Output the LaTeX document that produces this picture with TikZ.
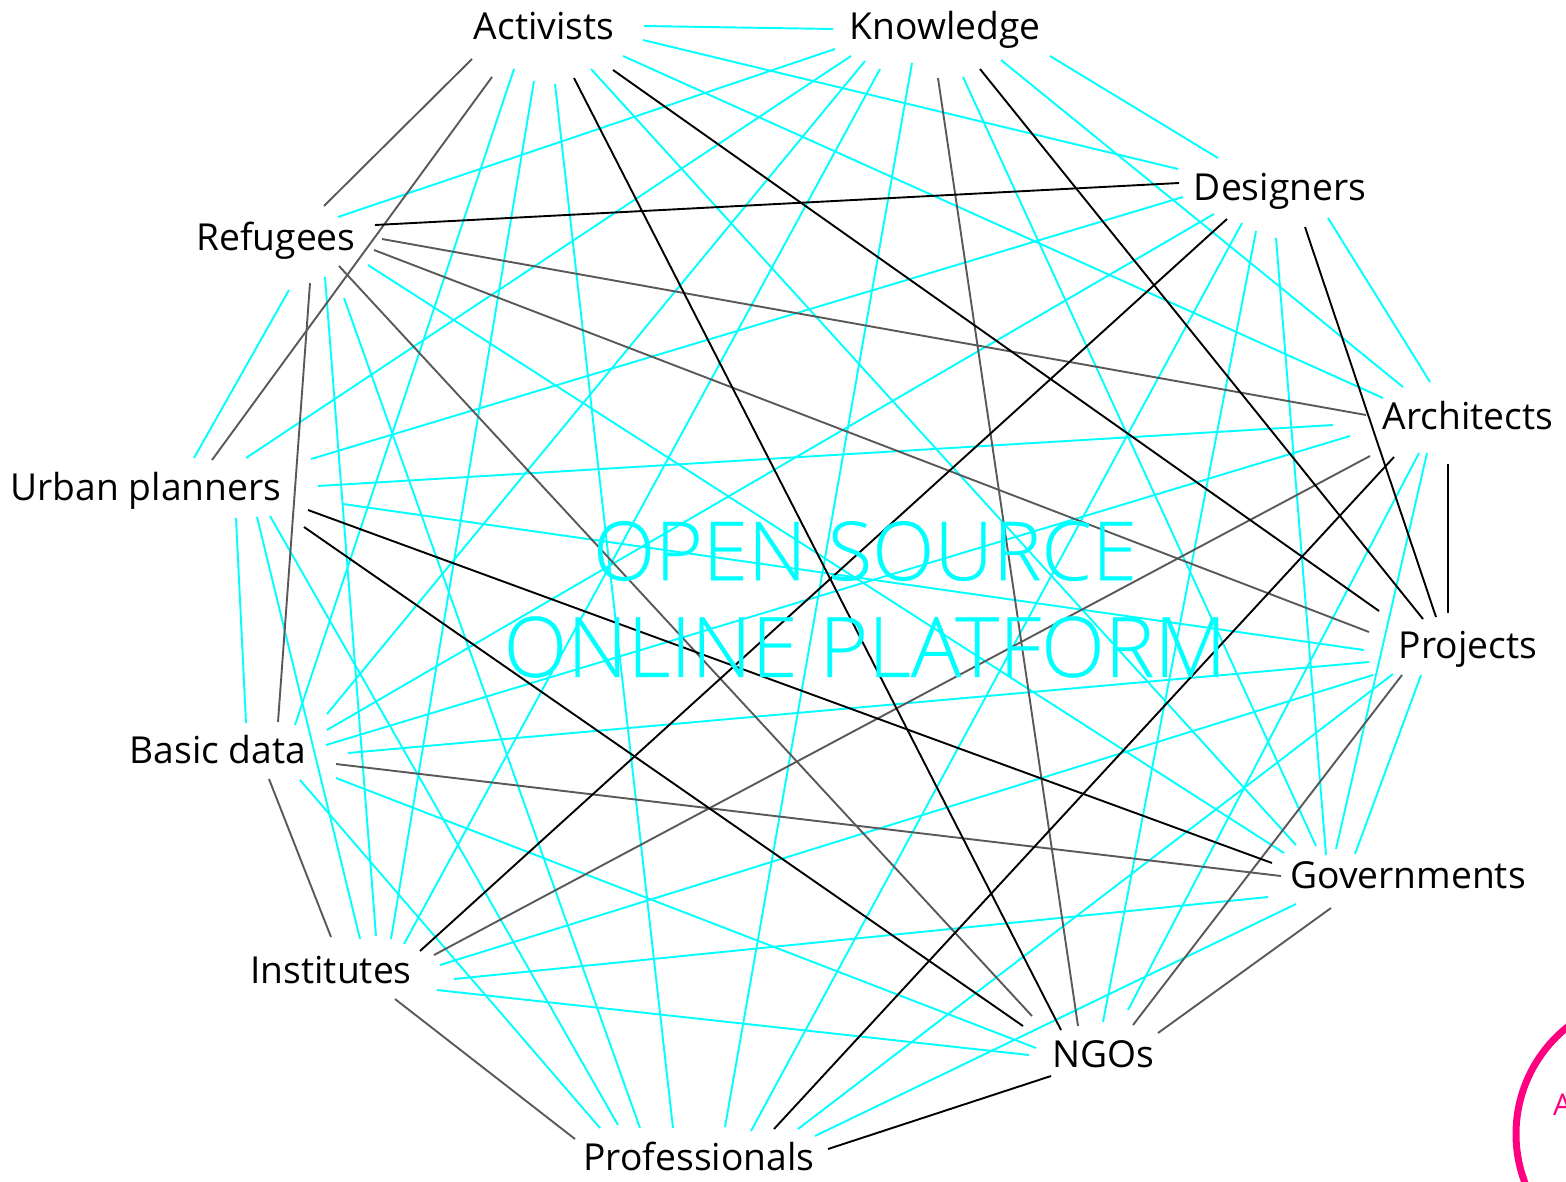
\documentclass[tikz,border=0pt]{standalone}
\usepackage{fontspec}
\setmainfont{Open Sans}
\newfontfamily\lightfont[Kerning=Off,FakeBold=0.3]{Open Sans Light}
\definecolor{linkcyan}{HTML}{00FFFF}
\definecolor{linkgray}{HTML}{595959}
\definecolor{markpink}{HTML}{FF0080}
\tikzset{
  actor/.style={text=black,font=\fontsize{37.2}{44}\selectfont,inner sep=0pt,anchor=center},
  cyanlink/.style={draw=linkcyan,line width=1.9pt},
  blacklink/.style={draw=black,line width=1.9pt},
  graylink/.style={draw=linkgray,line width=1.9pt},
  headline/.style={text=linkcyan,inner sep=0pt,anchor=center}
}
\begin{document}
\begin{tikzpicture}[x=1pt,y=-1pt]
\useasboundingbox (0,0) rectangle (1566,1181);
\clip (0,0) rectangle (1566,1181);
% cyan connectors
\foreach \a/\ax/\ay/\b/\bx/\by in {
Ac/644/26/Kn/833/29, Ac/643/40/De/1178/169, Ac/623/56/Ar/1383/398, Ac/591/69/Go/1296/845,
Ac/555/84/Pf/673/1128, Ac/534/81/In/391/939, Ac/514/69/Ba/295/725,
Kn/835/49/Re/338/217, Kn/851/56/Ur/246/458, Kn/865/61/Ba/327/714, Kn/880/69/In/404/944,
Kn/912/63/Pf/725/1127, Kn/963/77/Go/1316/846, Kn/1001/60/Ar/1403/387, Kn/1050/56/De/1218/158,
De/1183/197/Ur/311/459, De/1214/214/Ba/327/730, De/1242/223/Pf/751/1131, De/1256/231/Ng/1103/1022,
De/1276/238/Go/1326/855, De/1328/218/Ar/1430/382,
Ar/1333/425/Ur/318/486, Ar/1350/436/Ba/326/745, Ar/1419/453/Ng/1128/1010, Ar/1427/453/Go/1336/849,
Pj/1364/650/Ur/343/504, Pj/1369/662/Ba/348/753, Pj/1373/675/In/440/965, Pj/1393/674/Pf/798/1129,
Pj/1421/675/Go/1355/854,
Go/1284/853/Re/368/265, Go/1268/897/In/454/979, Go/1296/904/Pf/815/1136,
Ng/1036/1048/Ba/336/778, Ng/1029/1055/In/437/990,
Pf/600/1128/Ba/300/780, Pf/618/1125/Ur/270/516, Pf/640/1128/Re/344/298,
In/360/939/Ur/257/517, In/376/936/Re/325/277,
Ba/246/723/Ur/236/518, Ur/194/458/Re/289/290%
}{
  \coordinate (\a-\b) at (\ax,\ay);
  \coordinate (\b-\a) at (\bx,\by);
  \draw[cyanlink] (\a-\b) -- (\b-\a);
}
% gray connectors
\foreach \a/\ax/\ay/\b/\bx/\by in {
Ac/472/59/Re/324/206, Ac/492/77/Ur/212/460,
Kn/938/78/Ng/1078/1026,
Ar/1366/415/Re/382/239, Ar/1370/456/In/434/955,
Pj/1369/632/Re/374/250, Pj/1402/675/Ng/1133/1025,
Go/1281/876/Ba/336/764, Go/1331/908/Ng/1158/1033,
Re/339/266/Ng/1032/1016, Re/310/283/Ba/278/722,
Ba/269/779/In/331/937, In/395/999/Pf/575/1139%
}{
  \coordinate (\a-\b) at (\ax,\ay);
  \coordinate (\b-\a) at (\bx,\by);
  \draw[graylink] (\a-\b) -- (\b-\a);
}
% black connectors
\foreach \a/\ax/\ay/\b/\bx/\by in {
Ac/574/78/Ng/1061/1030, Ac/613/70/Pj/1379/611,
Kn/980/69/Pj/1423/619,
De/1179/183/Re/375/225, De/1227/219/In/420/951, De/1305/227/Pj/1436/617,
Ar/1394/457/Pf/774/1129, Ar/1448/464/Pj/1448/613,
Go/1272/863/Ur/308/510, Ur/304/527/Ng/1023/1026,
Ng/1051/1076/Pf/828/1149%
}{
  \coordinate (\a-\b) at (\ax,\ay);
  \coordinate (\b-\a) at (\bx,\by);
  \draw[blacklink] (\a-\b) -- (\b-\a);
}
% actors
\node[actor] (Ac) at (544,26) {Activists};
\node[actor] (Kn) at (945,30) {Knowledge};
\node[actor] (De) at (1280,191) {Designers};
\node[actor] (Ar) at (1468,415.5) {Architects};
\node[actor] (Pj) at (1468,649) {Projects};
\node[actor] (Go) at (1408,875) {Governments};
\node[actor] (Ng) at (1103,1054) {NGOs};
\node[actor] (Pf) at (699,1156.5) {Professionals};
\node[actor] (In) at (331,970) {Institutes};
\node[actor] (Ba) at (218,749.5) {Basic data};
\node[actor] (Ur) at (146,491) {Urban planners};
\node[actor] (Re) at (276,241) {Refugees};
% centre title
\node[headline,font=\lightfont\fontsize{81.5}{96}\selectfont] (t1) at (865,551) {OPEN SOURCE};
\node[headline,font=\lightfont\fontsize{83.5}{96}\selectfont] (t2) at (865,647) {ONLINE PLATFORM};
% logo fragment at the corner
\node[circle,draw=markpink,line width=7pt,minimum size=274pt,inner sep=0pt] (logo) at (1653,1134) {};
\node[text=markpink,font=\fontsize{30}{36}\selectfont,anchor=west,inner sep=0pt] (logotext) at (1553,1105) {A};
\end{tikzpicture}
\end{document}
